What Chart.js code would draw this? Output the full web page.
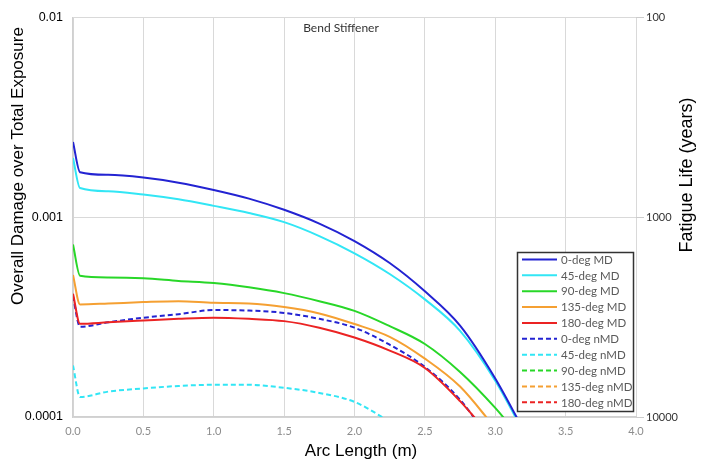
<!DOCTYPE html>
<html>
<head>
<meta charset="utf-8">
<script src="https://cdn.jsdelivr.net/npm/chart.js@4"></script>
<style>
  body { margin: 0; background: #fff; }
  canvas { display: block; }
</style>
</head>
<body>
<canvas id="damageChart" width="710" height="465"></canvas>
<script>
// arc length positions (m)
var arcLength = [0, 0.05, 0.25, 0.5, 0.75, 1.0, 1.25, 1.5, 1.75, 2.0, 2.25, 2.5, 2.75, 3.0, 3.25];

// overall damage over total exposure
var deg0MD   = [0.00238, 0.00168, 0.00163, 0.00158, 0.00149, 0.00137, 0.00124, 0.00109, 0.00093, 0.00076, 0.00059, 0.000426, 0.000287, 0.000156, 0.000074];
var deg45MD  = [0.00198, 0.00140, 0.00135, 0.00130, 0.00123, 0.00114, 0.00105, 0.000945, 0.000805, 0.00066, 0.00052, 0.000388, 0.00027, 0.000152, 0.000072];
var deg90MD  = [0.00073, 0.00051, 0.00050, 0.000495, 0.00048, 0.000468, 0.000446, 0.000417, 0.00038, 0.00034, 0.000285, 0.000232, 0.000168, 0.000111, 0.000068];
var deg135MD = [0.000514, 0.000366, 0.00037, 0.000376, 0.00038, 0.000373, 0.00037, 0.000355, 0.00033, 0.000292, 0.000252, 0.000196, 0.000142, 0.000088, null];
var deg180MD = [0.000414, 0.000293, 0.000298, 0.000304, 0.00031, 0.000314, 0.00031, 0.000302, 0.00028, 0.00025, 0.000215, 0.000176, 0.00012, 0.000075, null];
var deg0nMD   = [0.000402, 0.000283, 0.000298, 0.000314, 0.000327, 0.000343, 0.000341, 0.000332, 0.00031, 0.00028, 0.00023, 0.000178, 0.000122, 0.00007, null];
var deg45nMD  = [0.000181, 0.000126, 0.000134, 0.000139, 0.000143, 0.000145, 0.000145, 0.00014, 0.000132, 0.000119, 0.000095, null, null, null, null];
var deg90nMD  = [null, null, null, null, null, null, null, null, null, null, null, null, null, null, null];
var deg135nMD = [null, null, null, null, null, null, null, null, null, null, null, null, null, null, null];
var deg180nMD = [null, null, null, null, null, null, null, null, null, null, null, null, null, null, null];

var seriesNames = ['0-deg MD', '45-deg MD', '90-deg MD', '135-deg MD', '180-deg MD',
                   '0-deg nMD', '45-deg nMD', '90-deg nMD', '135-deg nMD', '180-deg nMD'];
var seriesValues = [deg0MD, deg45MD, deg90MD, deg135MD, deg180MD,
                    deg0nMD, deg45nMD, deg90nMD, deg135nMD, deg180nMD];

var damageTicks = [0.0001, 0.001, 0.01];
var lifeTicks = [100, 1000, 10000];
var xTicks = [0, 0.5, 1.0, 1.5, 2.0, 2.5, 3.0, 3.5, 4.0];

var colors = ['rgb(35,35,210)', 'rgb(50,230,245)', 'rgb(40,215,40)', 'rgb(245,160,50)', 'rgb(235,35,35)'];

var datasets = seriesValues.map(function(vals, i) {
    return {
        label: seriesNames[i],
        data: arcLength.map(function(x, j) { return { x: x, y: vals[j] }; }),
        borderColor: colors[i % 5],
        backgroundColor: colors[i % 5],
        borderWidth: 2,
        borderDash: i >= 5 ? [5, 3] : [],
        pointRadius: 0,
        cubicInterpolationMode: 'monotone',
        yAxisID: 'y'
    };
});

// titles and the boxed legend drawn by hand
var decorations = {
    id: 'decorations',
    afterDraw: function(chart) {
        var ctx = chart.ctx;
        ctx.save();
        ctx.fillStyle = '#000';
        ctx.textAlign = 'center';
        ctx.textBaseline = 'middle';

        ctx.font = '17px "Liberation Sans", Arial, sans-serif';
        ctx.fillText('Arc Length (m)', 361, 451);

        ctx.save();
        ctx.translate(18, 166);
        ctx.rotate(-Math.PI / 2);
        ctx.fillText('Overall Damage over Total Exposure', 0, 0);
        ctx.restore();

        ctx.save();
        ctx.font = '18px "Liberation Sans", Arial, sans-serif';
        ctx.translate(687, 175);
        ctx.rotate(-Math.PI / 2);
        ctx.fillText('Fatigue Life (years)', 0, 0);
        ctx.restore();

        ctx.fillStyle = '#333';
        ctx.font = '12px Lato, sans-serif';
        ctx.fillText('Bend Stiffener', 341, 28);

        // legend
        var bx = 517.5, by = 252.5, bw = 116, bh = 159;
        ctx.fillStyle = '#fff';
        ctx.fillRect(bx, by, bw, bh);
        ctx.strokeStyle = '#333';
        ctx.lineWidth = 1.5;
        ctx.strokeRect(bx, by, bw, bh);

        ctx.textAlign = 'left';
        ctx.font = '11.5px Lato, sans-serif';
        chart.data.datasets.forEach(function(ds, i) {
            var y = 259.5 + i * 15.87;
            ctx.strokeStyle = ds.borderColor;
            ctx.lineWidth = 2;
            ctx.setLineDash(ds.borderDash);
            ctx.beginPath();
            ctx.moveTo(522, y);
            ctx.lineTo(557, y);
            ctx.stroke();
            ctx.setLineDash([]);
            ctx.fillStyle = '#5a5a5a';
            ctx.fillText(ds.label, 561, y + 0.5);
        });
        ctx.restore();
    }
};

new Chart(document.getElementById('damageChart'), {
    type: 'line',
    data: { datasets: datasets },
    plugins: [decorations],
    options: {
        responsive: false,
        animation: false,
        layout: { padding: { top: 13, left: 0, right: 0, bottom: 0 } },
        plugins: {
            legend: { display: false },
            tooltip: { enabled: false }
        },
        scales: {
            x: {
                type: 'linear',
                min: 0,
                max: 4,
                afterBuildTicks: function(scale) {
                    scale.ticks = xTicks.map(function(v) { return { value: v }; });
                },
                afterFit: function(scale) { scale.height = 48; },
                ticks: {
                    padding: 8,
                    color: '#8c8c8c',
                    font: { family: 'Lato', size: 11 },
                    callback: function(v) { return Number(v).toFixed(1); }
                },
                grid: { color: '#d9d9d9', lineWidth: 1, drawTicks: false },
                border: { color: '#d0d0d0', width: 1.5 }
            },
            y: {
                type: 'logarithmic',
                position: 'left',
                min: 0.0001,
                max: 0.01,
                afterBuildTicks: function(scale) {
                    scale.ticks = damageTicks.map(function(v) { return { value: v }; });
                },
                afterFit: function(scale) { scale.width = 73; },
                ticks: {
                    padding: 10,
                    color: '#000',
                    font: { family: 'Liberation Sans', size: 12.5 },
                    callback: function(v) { return String(v); }
                },
                grid: { color: '#d9d9d9', lineWidth: 1, drawTicks: false },
                border: { color: '#d0d0d0', width: 1.5 }
            },
            y2: {
                type: 'logarithmic',
                position: 'right',
                reverse: true,
                min: 100,
                max: 10000,
                afterBuildTicks: function(scale) {
                    scale.ticks = lifeTicks.map(function(v) { return { value: v }; });
                },
                afterFit: function(scale) { scale.width = 74; },
                ticks: {
                    padding: 2,
                    color: '#333',
                    font: { family: 'Lato', size: 11 },
                    callback: function(v) { return String(v); }
                },
                grid: { drawOnChartArea: false, color: '#cccccc', tickLength: 8 },
                border: { display: false }
            }
        }
    }
});
</script>
</body>
</html>
